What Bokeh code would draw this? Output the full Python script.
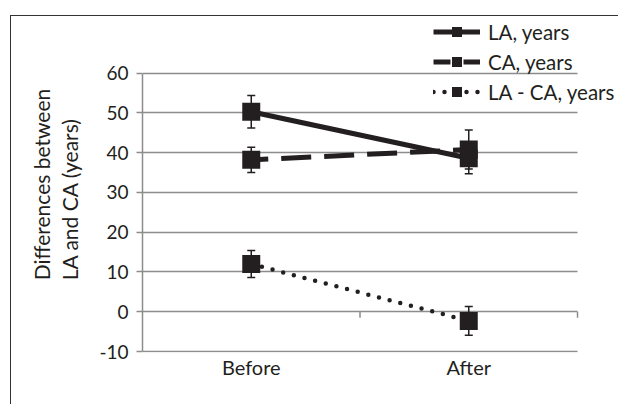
from bokeh.plotting import figure
from bokeh.models import (ColumnDataSource, Range1d, FixedTicker, Title,
                          Whisker, TeeHead, Legend, LegendItem)
from bokeh.embed import file_html
from bokeh.resources import INLINE

# ---- data ----
categories = ["Before", "After"]
la_years = [50.3, 38.6]
la_err = [4.1, 3.9]
ca_years = [38.2, 40.8]
ca_err = [3.2, 4.9]
diff_years = [12.0, -2.3]
diff_err = [3.4, 3.6]
y_ticks = [-10, 0, 10, 20, 30, 40, 50, 60]
series_labels = ["LA, years", "CA, years", "LA - CA, years"]
y_title = "Differences between\nLA and CA (years)"

INK = "#231f20"
GRID = "#8c8c8c"
FONT = "Lato"

n = len(categories)
x_pos = [i + 0.5 for i in range(n)]          # category centres on the x scale
x_bounds = [i + 1 for i in range(n)]         # category boundaries (ticks on zero line)

src = ColumnDataSource(dict(
    x=x_pos,
    la=la_years, la_lo=[v - e for v, e in zip(la_years, la_err)], la_hi=[v + e for v, e in zip(la_years, la_err)],
    ca=ca_years, ca_lo=[v - e for v, e in zip(ca_years, ca_err)], ca_hi=[v + e for v, e in zip(ca_years, ca_err)],
    df=diff_years, df_lo=[v - e for v, e in zip(diff_years, diff_err)], df_hi=[v + e for v, e in zip(diff_years, diff_err)],
))

p = figure(x_range=Range1d(0, 2.193), y_range=Range1d(-10.25, 74.26),
           width=608, height=389,
           min_border_left=131, min_border_right=0, min_border_top=0, min_border_bottom=53,
           output_backend="svg", toolbar_location=None)
p.margin = (15, 0, 0, 10)
p.styles = {"border-left": "1px solid #333333", "border-top": "1px solid #333333"}
p.outline_line_color = None
p.background_fill_color = "white"
p.border_fill_color = "white"

# grid
p.xgrid.visible = False
p.ygrid.ticker = FixedTicker(ticks=y_ticks)
p.ygrid.grid_line_color = GRID
p.ygrid.grid_line_width = 1.5
p.ygrid.cross_bounds = (0, n)

# y axis
p.yaxis.ticker = FixedTicker(ticks=y_ticks)
p.yaxis.bounds = (min(y_ticks), max(y_ticks))
p.yaxis.major_label_overrides = {t: str(t) for t in y_ticks}
p.yaxis.axis_line_color = GRID
p.yaxis.axis_line_width = 1.5
p.yaxis.major_tick_line_color = GRID
p.yaxis.major_tick_line_width = 1.5
p.yaxis.major_tick_out = 6
p.yaxis.major_tick_in = 0
p.yaxis.minor_tick_line_color = None
p.yaxis.major_label_standoff = 8
p.yaxis.major_label_text_font = FONT
p.yaxis.major_label_text_font_size = "19px"
p.yaxis.major_label_text_color = INK

# y axis title (two lines), placed in the left panel, centred a bit below the frame centre
ytitle = Title(text=y_title, align="center", offset=-26, standoff=30,
               text_font=FONT, text_font_size="21px", text_font_style="normal",
               text_color=INK, text_line_height=1.1)
p.add_layout(ytitle, "left")

# x axis
p.xaxis.ticker = FixedTicker(ticks=x_pos)
p.xaxis.major_label_overrides = {x: c for x, c in zip(x_pos, categories)}
p.xaxis.axis_line_color = None
p.xaxis.major_tick_line_color = None
p.xaxis.minor_tick_line_color = None
p.xaxis.major_tick_out = 0
p.xaxis.major_tick_in = 0
p.xaxis.major_label_standoff = 2
p.xaxis.major_label_text_font = FONT
p.xaxis.major_label_text_font_size = "20px"
p.xaxis.major_label_text_color = INK

# category boundary ticks on the zero line
p.segment(x0=x_bounds, y0=0, x1=x_bounds, y1=-1.5, line_color=GRID, line_width=1.5)

# error bars
for lo, hi in (("la_lo", "la_hi"), ("ca_lo", "ca_hi"), ("df_lo", "df_hi")):
    w = Whisker(source=src, base="x", lower=lo, upper=hi, dimension="height",
                line_color=INK, line_width=1.5, level="underlay",
                upper_head=TeeHead(size=8, line_color=INK, line_width=1.5),
                lower_head=TeeHead(size=8, line_color=INK, line_width=1.5))
    p.add_layout(w)

l1 = p.line("x", "la", source=src, line_color=INK, line_width=5)
l2 = p.line("x", "ca", source=src, line_color=INK, line_width=5, line_dash="30 13",
            line_dash_offset=13)
l3 = p.line("x", "df", source=src, line_color=INK, line_width=4.5, line_dash="0 11", line_cap="round")
s1 = p.scatter("x", "la", source=src, marker="square", size=18, fill_color=INK, line_color=None)
s2 = p.scatter("x", "ca", source=src, marker="square", size=18, fill_color=INK, line_color=None)
s3 = p.scatter("x", "df", source=src, marker="square", size=18, fill_color=INK, line_color=None)

legend = Legend(items=[LegendItem(label=series_labels[0], renderers=[l1, s1]),
                       LegendItem(label=series_labels[1], renderers=[l2, s2]),
                       LegendItem(label=series_labels[2], renderers=[l3, s3])],
                location=(291, 248), orientation="vertical",
                glyph_width=47, glyph_height=25, label_height=25, spacing=5,
                padding=0, margin=0, label_standoff=8,
                border_line_color=None, background_fill_alpha=0,
                label_text_font=FONT, label_text_font_size="20.5px", label_text_color=INK)
p.add_layout(legend)

open("out.html", "w").write(file_html(p, INLINE))
